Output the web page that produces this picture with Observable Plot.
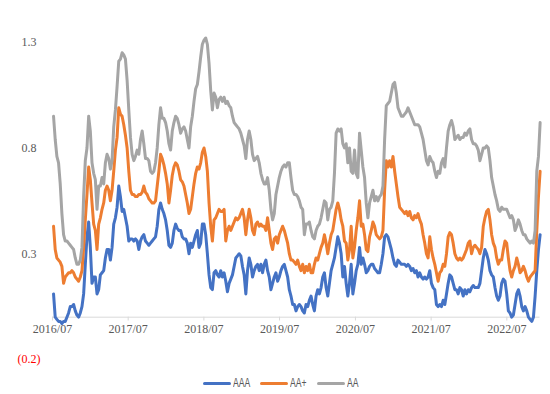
<!DOCTYPE html>
<html><head><meta charset="utf-8">
<script src="https://cdn.jsdelivr.net/npm/d3@7"></script>
<script src="https://cdn.jsdelivr.net/npm/@observablehq/plot@0.6"></script>
<style>
html,body{margin:0;padding:0;background:#fff;}
#wrap{position:relative;width:550px;height:394px;overflow:hidden;background:#fff;}
#legend{position:absolute;left:0;top:370px;width:550px;height:24px;font-family:"Liberation Sans",sans-serif;font-size:12px;color:#595959;}
.sw{position:absolute;top:11.5px;width:28px;height:3px;border-radius:1.5px;}
.lb{position:absolute;top:6px;line-height:14px;transform:scaleX(0.72);transform-origin:left center;white-space:nowrap;}
</style></head><body><div id="wrap"><div id="chart"></div><div id="legend"></div></div>
<script>
const seriesNames = ["AAA", "AA+", "AA"];
const seriesColors = ["#4472C4", "#ED7D31", "#A5A5A5"];
const startDate = "2016-07-06";
const stepDays = 8.064;

const aaa = [
0.11,0.00,-0.01,-0.02,-0.02,-0.03,-0.02,-0.02,0.00,0.02,0.05,0.05,0.06,0.03,0.01,0.00,0.02,0.05,0.11,0.25,0.38,0.45,0.33,0.16,0.19,0.19,0.11,0.13,0.20,0.21,0.22,0.28,0.32,0.32,0.27,0.33,0.44,0.47,0.52,0.62,0.57,0.50,0.51,0.47,0.43,0.36,0.37,0.37,0.36,0.37,0.36,0.32,0.36,0.38,0.39,0.36,0.35,
0.34,0.35,0.36,0.37,0.38,0.43,0.51,0.54,0.51,0.49,0.46,0.41,0.34,0.33,0.35,0.41,0.44,0.42,0.41,0.41,0.38,0.37,0.37,0.35,0.30,0.35,0.33,0.36,0.39,0.41,0.33,0.35,0.44,0.44,0.39,0.30,0.20,0.14,0.13,0.21,0.22,0.20,0.19,0.22,0.19,0.21,0.17,0.12,0.16,0.18,0.20,0.24,0.28,0.29,0.30,0.29,0.24,0.20,
0.11,0.22,0.28,0.25,0.19,0.22,0.24,0.25,0.22,0.25,0.21,0.25,0.27,0.22,0.19,0.13,0.16,0.19,0.21,0.17,0.19,0.22,0.24,0.25,0.22,0.19,0.13,0.10,0.06,0.06,0.03,0.05,0.06,0.05,0.03,0.02,0.06,0.05,0.08,0.10,0.06,0.03,0.10,0.13,0.11,0.14,0.19,0.21,0.14,0.10,0.16,0.22,0.25,0.28,0.33,0.38,0.35,0.30,
0.19,0.24,0.16,0.10,0.16,0.25,0.11,0.16,0.22,0.25,0.33,0.25,0.28,0.25,0.21,0.22,0.24,0.25,0.25,0.23,0.22,0.21,0.21,0.25,0.30,0.38,0.39,0.38,0.35,0.32,0.28,0.25,0.24,0.27,0.26,0.25,0.25,0.25,0.24,0.25,0.24,0.22,0.23,0.21,0.22,0.19,0.21,0.19,0.18,0.19,0.18,0.19,0.22,0.16,0.14,0.13,0.06,0.05,
0.06,0.05,0.08,0.06,0.11,0.16,0.20,0.19,0.16,0.13,0.13,0.11,0.14,0.13,0.10,0.13,0.11,0.13,0.12,0.14,0.15,0.14,0.14,0.14,0.16,0.22,0.28,0.32,0.30,0.27,0.22,0.20,0.19,0.14,0.10,0.08,0.10,0.16,0.18,0.17,0.11,0.03,0.02,0.00,0.01,0.06,0.11,0.13,0.10,0.05,0.03,0.05,0.03,0.00,-0.01,-0.02,0.00,0.10,0.22,0.32,0.39
];

const aaPlus = [
0.43,0.32,0.28,0.27,0.26,0.24,0.16,0.19,0.20,0.21,0.21,0.22,0.21,0.19,0.18,0.17,0.19,0.22,0.33,0.46,0.58,0.71,0.65,0.54,0.44,0.41,0.32,0.44,0.47,0.51,0.54,0.60,0.62,0.60,0.55,0.60,0.69,0.79,0.85,0.99,0.96,0.95,0.91,0.86,0.80,0.69,0.60,0.58,0.58,0.57,0.57,0.58,0.58,0.59,0.62,0.59,0.58,
0.56,0.55,0.54,0.54,0.55,0.62,0.69,0.77,0.75,0.72,0.68,0.63,0.54,0.60,0.67,0.71,0.73,0.72,0.69,0.65,0.64,0.62,0.58,0.54,0.49,0.51,0.57,0.63,0.68,0.71,0.70,0.73,0.78,0.80,0.76,0.69,0.54,0.43,0.36,0.46,0.47,0.49,0.51,0.50,0.50,0.51,0.36,0.41,0.43,0.41,0.43,0.45,0.47,0.46,0.47,0.49,0.51,0.47,
0.39,0.46,0.51,0.47,0.41,0.39,0.44,0.45,0.43,0.44,0.43,0.43,0.41,0.47,0.41,0.35,0.32,0.37,0.38,0.35,0.39,0.41,0.43,0.41,0.38,0.35,0.30,0.27,0.27,0.26,0.25,0.27,0.24,0.22,0.25,0.21,0.24,0.22,0.25,0.21,0.21,0.25,0.28,0.27,0.30,0.33,0.35,0.39,0.35,0.30,0.35,0.39,0.41,0.46,0.51,0.54,0.51,0.46,
0.43,0.36,0.35,0.27,0.32,0.43,0.28,0.33,0.41,0.47,0.55,0.43,0.44,0.39,0.32,0.31,0.38,0.41,0.45,0.43,0.39,0.38,0.37,0.38,0.41,0.60,0.74,0.71,0.74,0.71,0.76,0.69,0.63,0.57,0.52,0.51,0.50,0.49,0.50,0.48,0.50,0.47,0.46,0.48,0.47,0.49,0.46,0.44,0.39,0.35,0.30,0.28,0.38,0.32,0.28,0.25,0.21,0.17,
0.21,0.22,0.25,0.24,0.30,0.38,0.40,0.39,0.35,0.30,0.28,0.27,0.28,0.27,0.28,0.30,0.32,0.35,0.36,0.30,0.33,0.34,0.33,0.32,0.30,0.33,0.43,0.47,0.50,0.51,0.46,0.39,0.35,0.33,0.28,0.25,0.27,0.27,0.32,0.36,0.35,0.28,0.22,0.19,0.22,0.24,0.28,0.25,0.21,0.22,0.24,0.22,0.19,0.17,0.19,0.20,0.21,0.22,0.41,0.57,0.69
];

const aa = [
0.95,0.84,0.76,0.73,0.63,0.49,0.39,0.36,0.36,0.35,0.34,0.33,0.32,0.28,0.25,0.25,0.27,0.33,0.57,0.74,0.80,0.95,0.88,0.73,0.68,0.65,0.51,0.62,0.62,0.66,0.63,0.73,0.77,0.75,0.70,0.74,0.90,0.98,1.09,1.21,1.22,1.25,1.24,1.22,1.12,0.98,0.85,0.77,0.74,0.76,0.79,0.77,0.84,0.88,0.82,0.75,0.75,
0.74,0.69,0.68,0.69,0.73,0.80,0.91,0.99,0.94,0.94,0.92,0.88,0.82,0.79,0.88,0.92,0.95,0.94,0.91,0.87,0.89,0.90,0.88,0.84,0.80,0.90,0.95,1.02,1.08,1.10,1.16,1.23,1.29,1.31,1.32,1.29,1.20,1.07,0.98,1.06,1.04,0.99,1.03,1.04,1.02,1.04,1.01,1.02,1.00,0.99,0.95,0.92,0.91,0.90,0.89,0.87,0.84,0.81,
0.75,0.84,0.88,0.84,0.77,0.74,0.75,0.76,0.73,0.68,0.65,0.63,0.63,0.66,0.60,0.51,0.46,0.49,0.58,0.62,0.66,0.69,0.71,0.72,0.71,0.73,0.73,0.66,0.60,0.58,0.58,0.57,0.55,0.52,0.51,0.39,0.44,0.44,0.45,0.41,0.38,0.37,0.41,0.43,0.44,0.47,0.51,0.55,0.54,0.46,0.51,0.52,0.55,0.68,0.87,0.89,0.88,0.89,
0.82,0.80,0.82,0.73,0.80,0.69,0.68,0.79,0.68,0.66,0.87,0.79,0.71,0.66,0.54,0.47,0.54,0.57,0.60,0.55,0.57,0.55,0.57,0.58,0.62,0.84,1.00,1.01,1.02,1.06,1.10,1.11,1.06,0.99,0.97,0.95,0.95,0.96,0.97,0.99,0.97,0.95,0.93,0.91,0.91,0.91,0.90,0.87,0.84,0.79,0.74,0.72,0.76,0.74,0.73,0.69,0.66,0.69,
0.68,0.73,0.75,0.71,0.80,0.88,0.91,0.93,0.90,0.84,0.85,0.86,0.84,0.85,0.85,0.87,0.86,0.88,0.89,0.84,0.82,0.82,0.81,0.79,0.74,0.77,0.80,0.80,0.81,0.80,0.74,0.66,0.62,0.58,0.55,0.51,0.50,0.52,0.51,0.51,0.51,0.49,0.47,0.48,0.46,0.41,0.43,0.46,0.44,0.41,0.39,0.39,0.37,0.36,0.35,0.36,0.35,0.41,0.69,0.76,0.92
];

const yTickValues = [1.3, 0.8, 0.3, -0.2];
const xTickLabels = ["2016/07", "2017/07", "2018/07", "2019/07", "2020/07", "2021/07", "2022/07"];

const t0 = Date.parse(startDate + "T00:00:00Z");
const toRows = (vals, name) => vals.map((v, i) => ({date: new Date(t0 + i * stepDays * 864e5), value: v, series: name}));
const parseTick = d3.utcParse("%Y/%m");
const xTicks = xTickLabels.map(s => parseTick(s));
const grey = "#595959";

const chart = Plot.plot({
  width: 550, height: 370,
  marginTop: 41.7, marginBottom: 11, marginLeft: 52, marginRight: 10.5,
  style: {fontFamily: "'Liberation Serif', serif", fontSize: "12px", background: "#fff", overflow: "visible"},
  x: {type: "utc", domain: [new Date(Date.UTC(2016, 6, 1)), new Date(Date.UTC(2022, 11, 8))], axis: null},
  y: {domain: [-0.2, 1.3], axis: null},
  color: {domain: seriesNames, range: seriesColors},
  marks: [
    Plot.ruleY([0], {stroke: "#d9d9d9", strokeWidth: 1}),
    Plot.ruleX(xTicks, {x: d => d, y1: 0, y2: -0.018, stroke: "#d9d9d9"}),
    Plot.text(xTicks, {x: d => d, y: 0, dy: 12, text: (d, i) => xTickLabels[i], fill: grey}),
    Plot.text(yTickValues.filter(v => v >= 0), {y: d => d, frameAnchor: "left", textAnchor: "end", dx: -16, text: d => d.toFixed(1), fill: grey}),
    Plot.text(yTickValues.filter(v => v < 0), {y: d => d, frameAnchor: "left", textAnchor: "end", dx: -12, text: d => "(" + Math.abs(d).toFixed(1) + ")", fill: "#ff0000"}),
    Plot.line(toRows(aaa, "AAA"), {x: "date", y: "value", stroke: "series", strokeWidth: 3}),
    Plot.line(toRows(aaPlus, "AA+"), {x: "date", y: "value", stroke: "series", strokeWidth: 3}),
    Plot.line(toRows(aa, "AA"), {x: "date", y: "value", stroke: "series", strokeWidth: 3})
  ]
});
document.getElementById("chart").appendChild(chart);

const legend = document.getElementById("legend");
const swLeft = [203, 260, 317];
seriesNames.forEach((name, i) => {
  const sw = document.createElement("div");
  sw.className = "sw";
  sw.style.left = swLeft[i] + "px";
  sw.style.background = seriesColors[i];
  legend.appendChild(sw);
  const lb = document.createElement("div");
  lb.className = "lb";
  lb.style.left = (swLeft[i] + 30) + "px";
  lb.textContent = name;
  legend.appendChild(lb);
});
</script></body></html>
